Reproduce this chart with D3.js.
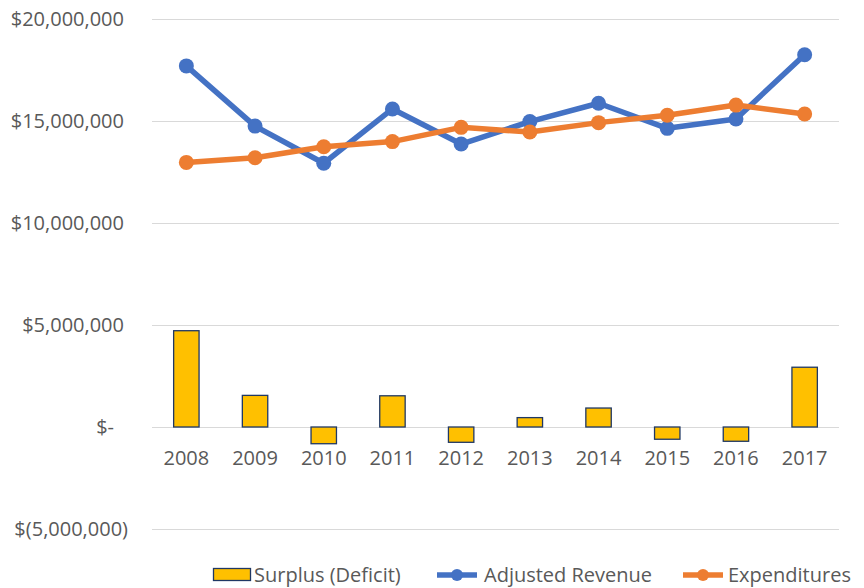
<!DOCTYPE html>
<html>
<head>
<meta charset="utf-8">
<script src="https://cdn.jsdelivr.net/npm/d3@7"></script>
<style>
  body { margin: 0; background: #fff; }
  text { font-family: "Open Sans", "Noto Sans", sans-serif; fill: #595959; }
</style>
</head>
<body>
<div id="chart"></div>
<script>
// data
let years = ["2008", "2009", "2010", "2011", "2012", "2013", "2014", "2015", "2016", "2017"];
let revenue = [17700000, 14750000, 12930000, 15590000, 13870000, 14970000, 15870000, 14640000, 15100000, 18250000];
let expenditures = [12970000, 13200000, 13740000, 13990000, 14690000, 14460000, 14920000, 15280000, 15780000, 15340000];
let surplus = [4720000, 1550000, -820000, 1530000, -750000, 460000, 930000, -600000, -700000, 2930000];
let yTicks = [-5000000, 0, 5000000, 10000000, 15000000, 20000000];

let width = 864, height = 588;
let plot = {left: 152, right: 839, top: 19, bottom: 529};

let svg = d3.select("#chart")
    .append("svg")
    .attr("width", width)
    .attr("height", height);

let x = d3.scaleBand().domain(years).range([plot.left, plot.right]).padding(0);
let y = d3.scaleLinear().domain([-5000000, 20000000]).range([plot.bottom, plot.top]);
let cx = function(d) { return x(d) + x.bandwidth() / 2; };

let fmt = d3.format(",");
let money = function(v) {
  if (v === 0) return "$-";
  if (v < 0) return "$(" + fmt(-v) + ")";
  return "$" + fmt(v);
};

// gridlines
svg.append("g")
    .selectAll("line")
    .data(yTicks)
    .join("line")
    .attr("x1", plot.left)
    .attr("x2", plot.right)
    .attr("y1", d => Math.round(y(d)) + 0.5)
    .attr("y2", d => Math.round(y(d)) + 0.5)
    .attr("stroke", "#d9d9d9")
    .attr("stroke-width", 1);

// y labels (accounting style)
svg.append("g")
    .selectAll("text")
    .data(yTicks)
    .join("text")
    .attr("x", 124)
    .attr("dx", d => d === 0 ? -10 : (d < 0 ? 4 : 0))
    .attr("y", d => y(d))
    .attr("dy", "0.33em")
    .attr("text-anchor", "end")
    .style("font-size", "20px")
    .text(money);

// x labels
svg.append("g")
    .selectAll("text")
    .data(years)
    .join("text")
    .attr("x", d => cx(d))
    .attr("y", 465)
    .attr("text-anchor", "middle")
    .style("font-size", "20px")
    .text(d => d);

// surplus bars
let barW = x.bandwidth() * 0.37;
svg.append("g")
    .selectAll("rect")
    .data(surplus)
    .join("rect")
    .attr("x", (d, i) => cx(years[i]) - barW / 2)
    .attr("y", d => y(Math.max(0, d)))
    .attr("width", barW)
    .attr("height", d => Math.abs(y(d) - y(0)))
    .attr("fill", "#ffc000")
    .attr("stroke", "#203864")
    .attr("stroke-width", 1.3);

let lineGenerator = d3.line()
    .x((d, i) => cx(years[i]))
    .y(d => y(d));

function drawSeries(values, color) {
  let g = svg.append("g");
  g.append("path")
      .datum(values)
      .attr("fill", "none")
      .attr("stroke", color)
      .attr("stroke-width", 5.5)
      .attr("stroke-linejoin", "round")
      .attr("d", lineGenerator);
  g.selectAll("circle")
      .data(values)
      .join("circle")
      .attr("cx", (d, i) => cx(years[i]))
      .attr("cy", d => y(d))
      .attr("r", 7.5)
      .attr("fill", color);
}

drawSeries(revenue, "#4472c4");
drawSeries(expenditures, "#ed7d31");

// legend
let legend = svg.append("g");
legend.append("rect")
    .attr("x", 213.5).attr("y", 568.5)
    .attr("width", 37).attr("height", 12)
    .attr("fill", "#ffc000")
    .attr("stroke", "#203864")
    .attr("stroke-width", 1.3);
legend.append("text")
    .attr("x", 254).attr("y", 581.5)
    .style("font-size", "20px")
    .text("Surplus (Deficit)");

let lineItems = [
  {label: "Adjusted Revenue", color: "#4472c4", x0: 437, tx: 484},
  {label: "Expenditures", color: "#ed7d31", x0: 683, tx: 728}
];
lineItems.forEach(function(it) {
  legend.append("line")
      .attr("x1", it.x0).attr("x2", it.x0 + 40)
      .attr("y1", 575).attr("y2", 575)
      .attr("stroke", it.color)
      .attr("stroke-width", 5.5);
  legend.append("circle")
      .attr("cx", it.x0 + 20).attr("cy", 575)
      .attr("r", 6)
      .attr("fill", it.color);
  legend.append("text")
      .attr("x", it.tx).attr("y", 581.5)
      .style("font-size", "20px")
      .text(it.label);
});
</script>
</body>
</html>
